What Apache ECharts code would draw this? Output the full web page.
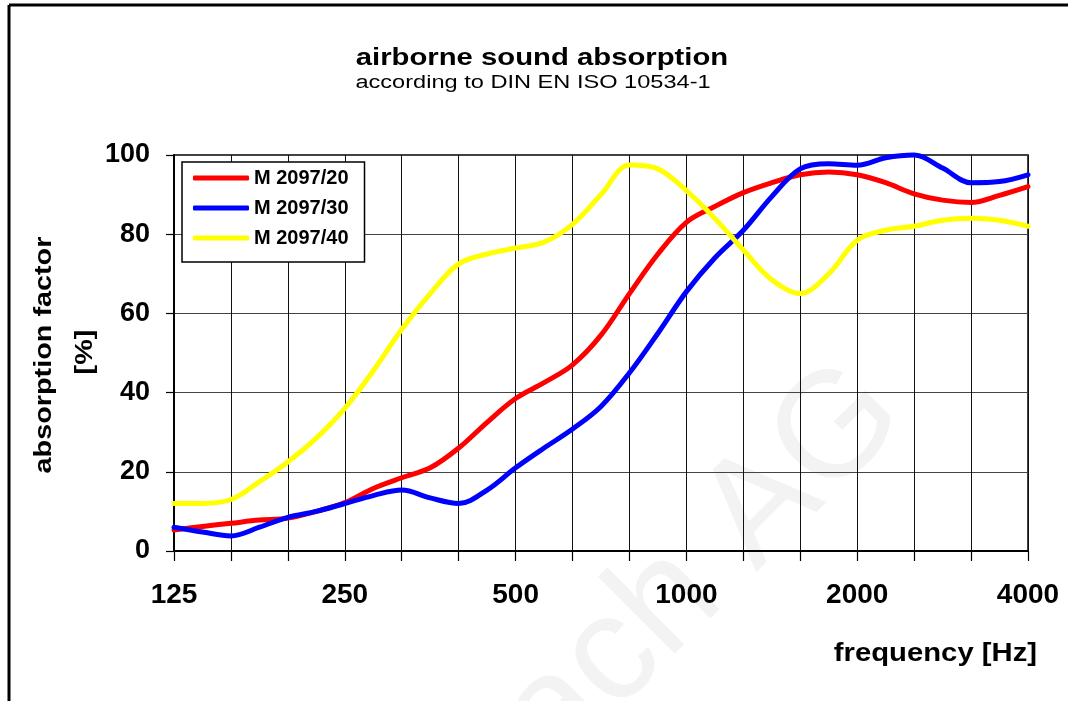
<!DOCTYPE html>
<html>
<head>
<meta charset="utf-8">
<script src="https://cdn.jsdelivr.net/npm/echarts@6/dist/echarts.min.js"></script>
<style>
  html, body { margin: 0; padding: 0; background: #ffffff; }
  #main { width: 1068px; height: 701px; }
</style>
</head>
<body>
<div id="main"></div>
<script>
// frequencies in Hz (1/6 octave steps)
var freqs = [125, 140.3, 157.5, 176.8, 198.4, 222.7, 250, 280.6, 315, 353.6, 396.9, 445.4, 500, 561.2, 630, 707.1,
  793.7, 890.9, 1000, 1122, 1260, 1414, 1587, 1782, 2000, 2245, 2520, 2828, 3175, 3564, 4000]
var m20 = [5.3, 6.2, 7, 7.8, 8.3, 10, 12.2, 15.8, 18.5, 21, 26, 32.5, 38.5, 42.5, 47, 54.5,
  65, 75, 83, 87, 90.5, 93, 95, 95.7, 95, 93, 90.2, 88.6, 88, 89.8, 92]
var m30 = [6, 4.8, 3.8, 6, 8.5, 10, 12, 14, 15.4, 13.4, 12, 15.4, 21, 26, 30.8, 36.5,
  45, 55, 65.5, 74, 81, 89.5, 96.5, 97.8, 97.4, 99.3, 100, 96.7, 93, 93.3, 95]
var m40 = [12, 12, 13, 17.5, 22.5, 28.5, 36, 45.5, 56, 65, 72.5, 75, 76.5, 78, 82.5, 90,
  97.5, 96.5, 91, 84, 76, 68.5, 65, 70, 78.5, 81, 82, 83.5, 84, 83.5, 82]
var seriesNames = ['M 2097/20', 'M 2097/30', 'M 2097/40']
var xTickLabels = ['125', '250', '500', '1000', '2000', '4000']

// x axis is in third-octave band steps counted from 125 Hz
function toPairs(vals) {
  var out = []
  for (var i = 0; i < freqs.length; i++) {
    out.push([3 * Math.log2(freqs[i] / 125), vals[i]])
  }
  return out
}

var chart = echarts.init(document.getElementById('main'))
var font = '"Liberation Sans", Arial, sans-serif'

function line(name, vals, color) {
  return {
    name: name,
    type: 'line',
    data: toPairs(vals),
    smooth: 0.35,
    symbol: 'none',
    clip: false,
    color: color,
    lineStyle: { width: 5, color: color, cap: 'round', join: 'round' }
  }
}

var option = {
  backgroundColor: '#ffffff',
  animation: false,
  grid: { left: 174, right: 40, top: 155, bottom: 150, show: true, borderColor: '#000', borderWidth: 1.5 },
  legend: {
    orient: 'vertical',
    left: 182,
    top: 162,
    data: seriesNames,
    icon: 'roundRect',
    itemWidth: 56,
    itemHeight: 5,
    itemGap: 10,
    padding: [6, 16, 14, 11],
    backgroundColor: '#ffffff',
    borderColor: '#000',
    borderWidth: 1.5,
    textStyle: { fontFamily: font, fontWeight: 'bold', fontSize: 20, color: '#000' }
  },
  xAxis: {
    type: 'value',
    min: 0,
    max: 15,
    interval: 1,
    axisLine: { lineStyle: { color: '#000', width: 2 } },
    axisTick: { show: true, length: 10, lineStyle: { color: '#000', width: 1.2 } },
    splitLine: { show: true, lineStyle: { color: '#111', width: 1 } },
    axisLabel: {
      margin: 30,
      fontFamily: font,
      fontWeight: 'bold',
      fontSize: 28,
      color: '#000',
      formatter: function (v) {
        return v % 3 === 0 ? xTickLabels[v / 3] : ''
      }
    }
  },
  yAxis: {
    type: 'value',
    min: 0,
    max: 100,
    interval: 20,
    axisLine: { show: true, lineStyle: { color: '#000', width: 2 } },
    axisTick: { show: true, length: 8, lineStyle: { color: '#000', width: 1.2 } },
    splitLine: { show: true, lineStyle: { color: '#444', width: 1.2 } },
    axisLabel: { margin: 24, fontFamily: font, fontWeight: 'bold', fontSize: 27, color: '#000' }
  },
  graphic: [
    // faint watermark behind everything
    {
      type: 'text', x: 933, y: 443, rotation: Math.PI / 4, z: -10,
      style: { text: 'ach AG', font: '150px ' + font, fill: '#f3f3f3', textAlign: 'right', textVerticalAlign: 'bottom' }
    },
    { type: 'line', shape: { x1: 9, y1: 5, x2: 1068, y2: 5 }, style: { stroke: '#000', lineWidth: 3 } },
    { type: 'line', shape: { x1: 9, y1: 5, x2: 9, y2: 701 }, style: { stroke: '#000', lineWidth: 3 } },
    {
      type: 'text', x: 542, y: 58, scaleX: 1.22,
      style: { text: 'airborne sound absorption', font: 'bold 24px ' + font, fill: '#000', textAlign: 'center', textVerticalAlign: 'middle' }
    },
    {
      type: 'text', x: 533, y: 83, scaleX: 1.31,
      style: { text: 'according to DIN EN ISO 10534-1', font: '18px ' + font, fill: '#000', textAlign: 'center', textVerticalAlign: 'middle' }
    },
    {
      type: 'text', x: 1037, y: 654, scaleX: 1.17,
      style: { text: 'frequency [Hz]', font: 'bold 25px ' + font, fill: '#000', textAlign: 'right', textVerticalAlign: 'middle' }
    },
    {
      type: 'text', x: 44, y: 355, rotation: Math.PI / 2, scaleX: 1.2,
      style: { text: 'absorption factor', font: 'bold 24px ' + font, fill: '#000', textAlign: 'center', textVerticalAlign: 'middle' }
    },
    {
      type: 'text', x: 85, y: 352, rotation: Math.PI / 2, scaleX: 1.2,
      style: { text: '[%]', font: 'bold 24px ' + font, fill: '#000', textAlign: 'center', textVerticalAlign: 'middle' }
    }
  ],
  series: [
    line(seriesNames[0], m20, '#ff0000'),
    line(seriesNames[1], m30, '#0000ff'),
    line(seriesNames[2], m40, '#ffff00')
  ]
}
chart.setOption(option)
</script>
</body>
</html>
